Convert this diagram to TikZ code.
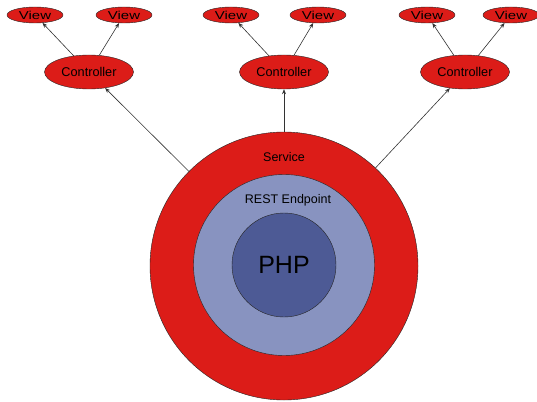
\documentclass[tikz,border=0pt]{standalone}
\usepackage{fontspec}
\setmainfont{Liberation Sans}
\usetikzlibrary{shapes.geometric,arrows.meta}

\definecolor{svcred}{RGB}{220,28,24}
\definecolor{restblue}{RGB}{136,147,192}
\definecolor{phpblue}{RGB}{77,90,149}

\tikzset{
    viewnode/.style={ellipse, draw=black!85, fill=svcred, inner sep=0pt,
        minimum width=56pt, minimum height=16pt, font=\fontsize{11.5}{12}\selectfont},
    ctrlnode/.style={ellipse, draw=black!85, fill=svcred, inner sep=0pt,
        minimum width=89pt, minimum height=34pt, font=\fontsize{12.7}{13}\selectfont},
    ring/.style={circle, draw=black!85, inner sep=0pt},
    link/.style={-{Stealth[length=5pt,width=4pt]}, black!80, line width=0.6pt}
}

\begin{document}
\begin{tikzpicture}[x=1pt,y=-1pt]

    \useasboundingbox (0,0) rectangle (537,401);

    %service rings
    \node[ring, fill=svcred, minimum size=268pt] (svc) at (284,266) {};
    \node[ring, fill=restblue, minimum size=181pt] (rest) at (284,265) {};
    \node[ring, fill=phpblue, minimum size=104pt, font=\fontsize{25}{25}\selectfont] (php) at (284,265) {PHP};

    \node[font=\fontsize{12.5}{13}\selectfont] (svclabel) at (284,157) {Service};
    \node[font=\fontsize{12.5}{13}\selectfont] (restlabel) at (288,200) {REST Endpoint};

    %controllers
    \node[ctrlnode] (ctrlA) at (89,72) {Controller};
    \node[ctrlnode] (ctrlB) at (284,72) {Controller};
    \node[ctrlnode] (ctrlC) at (465,72) {Controller};

    %views
    \node[viewnode] (viewA1) at (35,15) {\scalebox{1.3}[1]{View}};
    \node[viewnode] (viewA2) at (124,15) {\scalebox{1.3}[1]{View}};
    \node[viewnode] (viewB1) at (231,15) {\scalebox{1.3}[1]{View}};
    \node[viewnode] (viewB2) at (318,15) {\scalebox{1.3}[1]{View}};
    \node[viewnode] (viewC1) at (427,15) {\scalebox{1.3}[1]{View}};
    \node[viewnode] (viewC2) at (511,15) {\scalebox{1.3}[1]{View}};

    %arrows
    \foreach \c in {A,B,C} {
        \draw [link] (svc) -- (ctrl\c);
        \draw [link] (ctrl\c) -- (view\c1);
        \draw [link] (ctrl\c) -- (view\c2);
    }

\end{tikzpicture}
\end{document}
